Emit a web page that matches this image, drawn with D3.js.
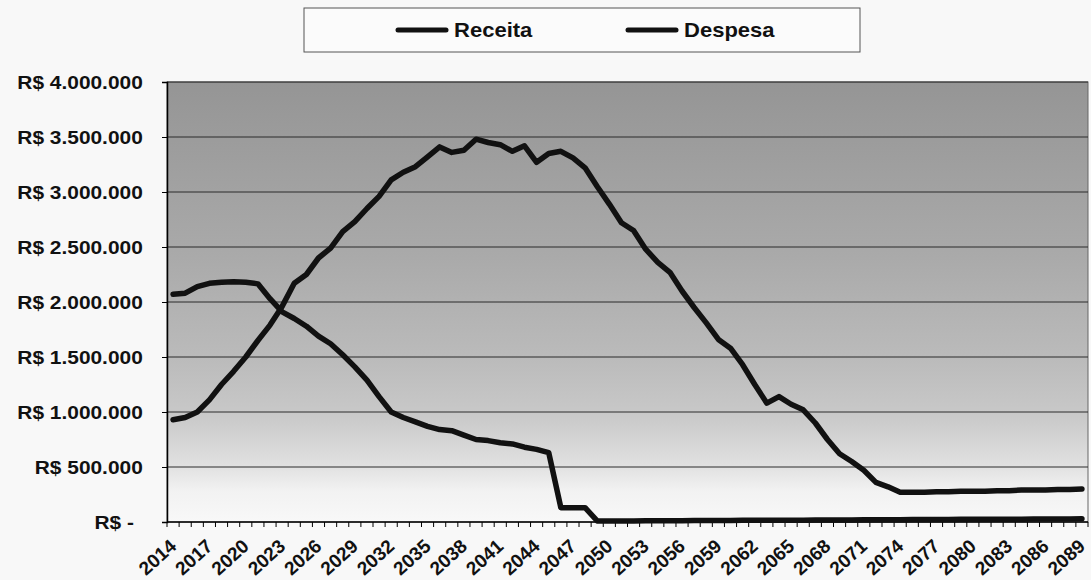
<!DOCTYPE html>
<html>
<head>
<meta charset="utf-8">
<script src="https://cdn.jsdelivr.net/npm/d3@7"></script>
<style>
    body { margin: 0; background: #f8f8f8; }
    text { font-family: "Liberation Sans", Arial, sans-serif; font-weight: bold; fill: #111; }
</style>
</head>
<body>
<div id="chart"></div>
<script>
// categorias (anos) e séries
const years = [2014, 2015, 2016, 2017, 2018, 2019, 2020, 2021, 2022, 2023,
    2024, 2025, 2026, 2027, 2028, 2029, 2030, 2031, 2032, 2033,
    2034, 2035, 2036, 2037, 2038, 2039, 2040, 2041, 2042, 2043,
    2044, 2045, 2046, 2047, 2048, 2049, 2050, 2051, 2052, 2053,
    2054, 2055, 2056, 2057, 2058, 2059, 2060, 2061, 2062, 2063,
    2064, 2065, 2066, 2067, 2068, 2069, 2070, 2071, 2072, 2073,
    2074, 2075, 2076, 2077, 2078, 2079, 2080, 2081, 2082, 2083,
    2084, 2085, 2086, 2087, 2088, 2089];

const receita = [2070000, 2080000, 2140000, 2170000, 2180000, 2185000, 2180000, 2165000, 2030000, 1910000,
    1850000, 1780000, 1690000, 1620000, 1520000, 1410000, 1290000, 1140000, 1000000, 950000,
    910000, 870000, 840000, 830000, 790000, 750000, 740000, 720000, 710000, 680000,
    660000, 630000, 130000, 130000, 130000, 10000, 10000, 10000, 10000, 11000,
    11000, 12000, 12000, 13000, 13000, 14000, 14000, 15000, 15000, 16000,
    16000, 17000, 17000, 18000, 18000, 19000, 19000, 20000, 20000, 21000,
    21000, 22000, 22000, 23000, 23000, 24000, 24000, 25000, 25000, 26000,
    26000, 27000, 27000, 28000, 28000, 29000];

const despesa = [930000, 950000, 1000000, 1110000, 1250000, 1370000, 1500000, 1650000, 1790000, 1960000,
    2170000, 2250000, 2400000, 2490000, 2640000, 2730000, 2850000, 2960000, 3110000, 3180000,
    3230000, 3320000, 3410000, 3360000, 3380000, 3480000, 3450000, 3430000, 3370000, 3420000,
    3270000, 3350000, 3370000, 3310000, 3220000, 3050000, 2890000, 2720000, 2650000, 2480000,
    2360000, 2270000, 2100000, 1950000, 1810000, 1660000, 1580000, 1430000, 1250000, 1080000,
    1140000, 1070000, 1020000, 900000, 750000, 620000, 550000, 470000, 360000, 320000,
    270000, 270000, 270000, 275000, 275000, 280000, 280000, 280000, 285000, 285000,
    290000, 290000, 290000, 295000, 295000, 300000];

const yTicks = [0, 500000, 1000000, 1500000, 2000000, 2500000, 3000000, 3500000, 4000000];
const seriesNames = ["Receita", "Despesa"];

const margin = ({ top: 82, right: 3, bottom: 58, left: 167 })
const width = 1091 - margin.left - margin.right,
    height = 580 - margin.top - margin.bottom;

const root = d3.select("#chart").append("svg")
    .attr("width", 1091)
    .attr("height", 580);

const defs = root.append("defs");
const grad = defs.append("linearGradient")
    .attr("id", "bg")
    .attr("x1", 0).attr("y1", 0).attr("x2", 0).attr("y2", 1);
[[0, "#959595"], [0.4, "#aaaaaa"], [0.63, "#bbbbbb"], [0.76, "#c9c9c9"], [0.87, "#e0e0e0"], [0.93, "#f2f2f2"], [1, "#f8f8f8"]]
    .forEach(s => grad.append("stop").attr("offset", s[0]).attr("stop-color", s[1]));

let svg = root.append("g")
    .attr("transform", "translate(" + margin.left + "," + margin.top + ")");

let xScale = d3.scaleBand()
    .domain(years)
    .range([0, width]);

let yScale = d3.scaleLinear()
    .domain([0, 4000000])
    .range([height, 0]);

// plot area
svg.append("rect")
    .attr("width", width)
    .attr("height", height)
    .attr("fill", "url(#bg)")
    .attr("stroke", "#666")
    .attr("stroke-width", 1);

// gridlines
svg.append("g")
    .selectAll("line")
    .data(yTicks.slice(1))
    .join("line")
    .attr("x1", 0).attr("x2", width)
    .attr("y1", d => yScale(d)).attr("y2", d => yScale(d))
    .attr("stroke", "#2a2a2a")
    .attr("stroke-width", 1);

const fmt = v => v === 0 ? "R$ -" : "R$ " + d3.format(",")(v).replace(/,/g, ".");

let yAxis = d3.axisLeft(yScale)
    .tickValues(yTicks)
    .tickFormat(fmt)
    .tickSize(5)
    .tickPadding(20);

const gy = svg.append("g")
    .attr("class", "axis y-axis")
    .call(yAxis);
gy.select(".domain").attr("stroke", "#000").attr("stroke-width", 1.5);
gy.selectAll(".tick line").attr("stroke", "#000");
gy.selectAll(".tick text")
    .attr("font-size", 19)
    .attr("transform", "scale(1.1,1)")
    .attr("dy", "0.36em")
    .attr("x", d => d === 0 ? -30 : -22);

// x axis: tick at each category boundary, label every 3 years
const gx = svg.append("g")
    .attr("class", "axis x-axis")
    .attr("transform", `translate(0, ${height})`);
gx.append("line")
    .attr("x1", 0).attr("x2", width)
    .attr("stroke", "#000").attr("stroke-width", 1.5);
gx.selectAll(".tk")
    .data(years.concat([null]))
    .join("line")
    .attr("class", "tk")
    .attr("x1", (d, i) => i * xScale.step())
    .attr("x2", (d, i) => i * xScale.step())
    .attr("y1", 0).attr("y2", 5)
    .attr("stroke", "#000");
gx.selectAll(".lbl")
    .data(years.filter(y => (y - 2014) % 3 === 0))
    .join("text")
    .attr("class", "lbl")
    .attr("font-size", 19)
    .attr("text-anchor", "end")
    .attr("transform", d => `translate(${xScale(d) + xScale.bandwidth() / 2}, 21) rotate(-42)`)
    .attr("dy", "0.35em")
    .text(d => d);

// lines
const line = d3.line()
    .x((d, i) => xScale(years[i]) + xScale.bandwidth() / 2)
    .y(d => yScale(d));

svg.selectAll(".serie")
    .data([receita, despesa])
    .join("path")
    .attr("class", "serie")
    .attr("d", line)
    .attr("fill", "none")
    .attr("stroke", "#111")
    .attr("stroke-width", 5.5)
    .attr("stroke-linejoin", "round")
    .attr("stroke-linecap", "round");

// legend
const legend = root.append("g");
legend.append("rect")
    .attr("x", 304).attr("y", 8)
    .attr("width", 556).attr("height", 44)
    .attr("fill", "#fbfbfb")
    .attr("stroke", "#555");
const items = legend.selectAll(".item")
    .data(seriesNames)
    .join("g")
    .attr("class", "item")
    .attr("transform", (d, i) => `translate(${[398, 628][i]}, 30)`);
items.append("line")
    .attr("x1", 0).attr("x2", 48)
    .attr("stroke", "#111").attr("stroke-width", 5)
    .attr("stroke-linecap", "round");
items.append("text")
    .attr("x", 51)
    .attr("dy", "0.36em")
    .attr("font-size", 20)
    .attr("transform", "scale(1.1,1)")
    .text(d => d);
</script>
</body>
</html>
